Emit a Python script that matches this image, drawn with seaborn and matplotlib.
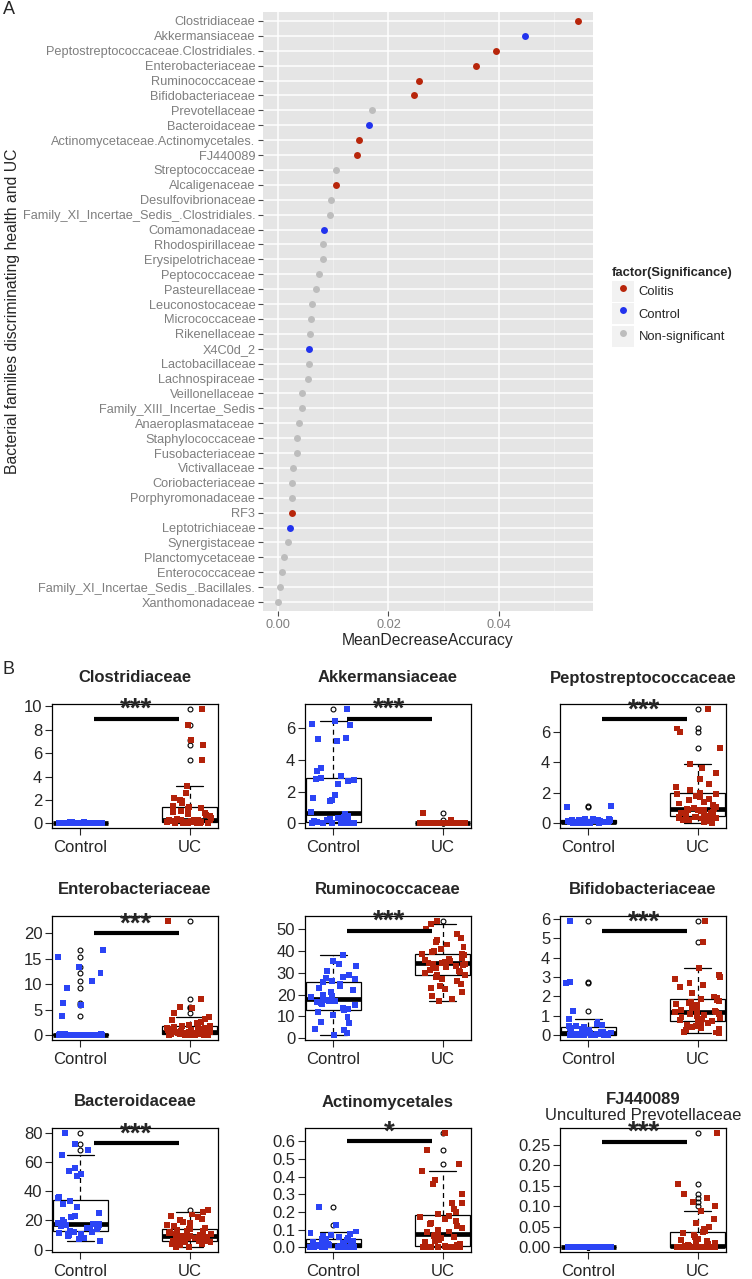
import matplotlib
matplotlib.use("Agg")
import matplotlib.pyplot as plt
from matplotlib.patches import Rectangle
from matplotlib.legend_handler import HandlerTuple
import numpy as np
import pandas as pd
import seaborn as sns

# ---------------- panel A data ----------------
families = [
    "Clostridiaceae", "Akkermansiaceae", "Peptostreptococcaceae.Clostridiales.",
    "Enterobacteriaceae", "Ruminococcaceae", "Bifidobacteriaceae", "Prevotellaceae",
    "Bacteroidaceae", "Actinomycetaceae.Actinomycetales.", "FJ440089",
    "Streptococcaceae", "Alcaligenaceae", "Desulfovibrionaceae",
    "Family_XI_Incertae_Sedis_.Clostridiales.", "Comamonadaceae", "Rhodospirillaceae",
    "Erysipelotrichaceae", "Peptococcaceae", "Pasteurellaceae", "Leuconostocaceae",
    "Micrococcaceae", "Rikenellaceae", "X4C0d_2", "Lactobacillaceae", "Lachnospiraceae",
    "Veillonellaceae", "Family_XIII_Incertae_Sedis", "Anaeroplasmataceae",
    "Staphylococcaceae", "Fusobacteriaceae", "Victivallaceae", "Coriobacteriaceae",
    "Porphyromonadaceae", "RF3", "Leptotrichiaceae", "Synergistaceae",
    "Planctomycetaceae", "Enterococcaceae", "Family_XI_Incertae_Sedis_.Bacillales.",
    "Xanthomonadaceae",
]
mean_decrease = [
    0.0543, 0.0447, 0.0395, 0.0358, 0.0255, 0.0246, 0.0170, 0.0165, 0.0147, 0.0143,
    0.0105, 0.0105, 0.0096, 0.0094, 0.0083, 0.0082, 0.0081, 0.0074, 0.0068, 0.0062,
    0.0060, 0.0058, 0.0057, 0.0057, 0.0055, 0.0044, 0.0043, 0.0039, 0.0035, 0.0034,
    0.0028, 0.0025, 0.0025, 0.0025, 0.0021, 0.0018, 0.0011, 0.0007, 0.0003, 0.0000,
]
C, K, N = "Colitis", "Control", "Non-significant"
significance = [
    C, K, C, C, C, C, N, K, C, C,
    N, C, N, N, K, N, N, N, N, N,
    N, N, K, N, N, N, N, N, N, N,
    N, N, N, C, K, N, N, N, N, N,
]
sig_levels = ["Colitis", "Control", "Non-significant"]
sig_colors = ["#B8260B", "#2233EE", "#BDBDBD"]

# ---------------- panel B data ----------------
groups = ["Control", "UC"]
group_colors = ["#2B44F5", "#B3220A"]

clostridiaceae_control = [0, 0, 0, 0, 0, 0, 0, 0, 0, 0, 0, 0, 0, 0, 0, 0.01, 0.01, 0.01, 0.02, 0.02,
                          0.02, 0.02, 0.03, 0.03, 0.03, 0.04, 0.04, 0.04, 0.05, 0.05, 0.05, 0.05,
                          0.06, 0.06, 0.06, 0.07, 0.07, 0.08, 0.08, 0.09]
clostridiaceae_uc = [0.0, 0.0, 0.01, 0.02, 0.03, 0.04, 0.05, 0.06, 0.07, 0.08, 0.09, 0.1,
                     0.1, 0.12, 0.14, 0.16, 0.18, 0.2, 0.22, 0.24, 0.26, 0.28, 0.3, 0.3,
                     0.32, 0.4, 0.5, 0.6, 0.7, 0.8, 0.9, 1.0, 1.1, 1.2, 1.3, 1.4,
                     1.5, 1.7, 1.9, 2.0, 2.2, 2.6, 3.2, 5.4, 6.7, 7.1, 8.4, 9.8]

akkermansiaceae_control = [0, 0, 0, 0, 0.01, 0.02, 0.03, 0.04, 0.05, 0.05,
                           0.08, 0.1, 0.15, 0.2, 0.25, 0.3, 0.35, 0.4, 0.5, 0.6,
                           0.7, 1.4, 1.5, 1.6, 1.8, 2.5, 2.7, 2.75, 2.8, 2.85,
                           3.0, 3.3, 3.5, 5.2, 5.3, 5.4, 6.2, 6.3, 6.45, 7.25]
akkermansiaceae_uc = [0] * 30 + [0.01] * 6 + [0.02] * 4 + [0.03] * 3 + [0.05] * 3 + [0.2, 0.65]

peptostreptococcaceae_control = [0, 0, 0, 0, 0, 0, 0.01, 0.02, 0.03, 0.04,
                                 0.05, 0.05, 0.06, 0.07, 0.08, 0.08, 0.09, 0.1, 0.1, 0.1,
                                 0.11, 0.12, 0.13, 0.14, 0.15, 0.16, 0.17, 0.18, 0.19, 0.2,
                                 0.2, 0.21, 0.22, 0.24, 0.25, 0.27, 0.3, 0.32, 1.1, 1.12]
peptostreptococcaceae_uc = [0.05, 0.1, 0.15, 0.2, 0.25, 0.3, 0.32, 0.35, 0.38, 0.4, 0.42, 0.45,
                            0.46, 0.5, 0.55, 0.6, 0.65, 0.7, 0.75, 0.8, 0.85, 0.88, 0.9, 0.95,
                            0.95, 1.0, 1.1, 1.2, 1.3, 1.4, 1.5, 1.6, 1.7, 1.8, 1.9, 1.95,
                            2.0, 2.2, 2.4, 2.6, 2.9, 3.3, 3.6, 3.9, 4.9, 6.0, 6.2, 7.5]

enterobacteriaceae_control = [0] * 14 + [0.01, 0.02, 0.03, 0.04, 0.05, 0.06, 0.08, 0.1, 0.12,
                                         0.15, 0.18, 0.2, 0.22, 0.25, 0.28, 0.3, 0.35] + \
                             [3.8, 5.9, 6.3, 9.3, 10.7, 12.2, 13.5, 15.3, 16.7]
enterobacteriaceae_uc = [0, 0, 0.05, 0.1, 0.1, 0.15, 0.2, 0.2, 0.25, 0.25, 0.3, 0.3,
                         0.32, 0.35, 0.4, 0.45, 0.5, 0.5, 0.55, 0.6, 0.62, 0.65, 0.68, 0.7,
                         0.72, 0.8, 0.9, 1.0, 1.1, 1.2, 1.3, 1.4, 1.5, 1.6, 1.7, 1.8,
                         1.9, 2.1, 2.4, 2.7, 3.0, 3.3, 3.6, 4.3, 5.4, 5.6, 7.2, 22.5]

ruminococcaceae_control = [1.2, 2.5, 3.5, 4.2, 6.8, 7.5, 9.5, 10.5, 12, 12.8,
                           13.2, 14, 15, 15.5, 16, 16.5, 17, 17.2, 17.5, 17.8,
                           18.2, 19, 19.5, 20, 21, 22, 23, 24, 25, 25.8,
                           26.2, 27, 27.5, 28, 29, 31, 33, 34, 35.5, 38]
ruminococcaceae_uc = [17, 18, 19.5, 21, 22.5, 23, 24, 25, 26, 27, 28, 28.8,
                      29.2, 30, 30.5, 31, 31.5, 32, 32.5, 33, 33.5, 34, 34.2, 34.4,
                      34.6, 35, 35.5, 36, 36.5, 37, 37.5, 38, 38.2, 38.4, 38.5, 38.6,
                      39.5, 40, 41, 42, 43, 44, 45, 46, 48, 50, 52.5, 54]

bifidobacteriaceae_control = [0, 0, 0, 0, 0, 0.01, 0.01, 0.02, 0.02, 0.02,
                              0.03, 0.04, 0.05, 0.05, 0.06, 0.07, 0.08, 0.09, 0.1, 0.1,
                              0.1, 0.12, 0.15, 0.18, 0.2, 0.25, 0.3, 0.35, 0.4, 0.45,
                              0.48, 0.5, 0.55, 0.6, 0.7, 0.85, 1.25, 2.7, 2.72, 5.9]
bifidobacteriaceae_uc = [0.1, 0.15, 0.2, 0.3, 0.35, 0.4, 0.45, 0.5, 0.55, 0.6, 0.65, 0.7,
                         0.72, 0.8, 0.85, 0.9, 0.95, 1.0, 1.05, 1.1, 1.12, 1.15, 1.18, 1.2,
                         1.2, 1.25, 1.3, 1.4, 1.5, 1.55, 1.6, 1.65, 1.7, 1.75, 1.8, 1.85,
                         1.9, 2.0, 2.2, 2.5, 2.6, 2.7, 2.9, 3.0, 3.1, 3.45, 4.8, 5.9]

bacteroidaceae_control = [6, 7, 8, 9, 10, 10.5, 11, 11.5, 12, 12.3,
                          13, 14, 14.5, 15, 15.5, 16, 16.5, 17, 17.2, 17.4,
                          17.6, 18, 19, 20, 22, 23, 25, 29, 31, 33.5,
                          35, 36, 50, 52, 54, 56, 65, 68, 72, 80]
bacteroidaceae_uc = [1.5, 2, 3, 3.5, 4, 4.5, 5, 5.2, 5.5, 5.7, 5.8, 6,
                     6.2, 6.5, 7, 7.3, 7.6, 8, 8.2, 8.5, 8.7, 8.8, 8.9, 9,
                     9, 9.5, 10, 10.5, 11, 11.5, 12, 12.5, 13, 13.5, 13.8, 14,
                     15, 16, 17, 18, 19, 20, 21, 22, 23, 24, 25.5, 27.2]

actinomycetales_control = [0] * 12 + [0.002, 0.004, 0.006, 0.008, 0.01, 0.012, 0.014, 0.015,
                                      0.016, 0.018, 0.02, 0.022, 0.025, 0.028, 0.03, 0.035, 0.04, 0.045,
                                      0.05, 0.055, 0.06, 0.065, 0.07, 0.075, 0.08, 0.09, 0.125, 0.23]
actinomycetales_uc = [0] * 10 + [0.002, 0.005,
                                 0.01, 0.015, 0.02, 0.03, 0.035, 0.04, 0.045, 0.05, 0.055, 0.06, 0.065, 0.07,
                                 0.08, 0.085, 0.09, 0.1, 0.11, 0.12, 0.13, 0.14, 0.15, 0.16, 0.17, 0.18,
                                 0.19, 0.2, 0.22, 0.25, 0.25, 0.3, 0.36, 0.38, 0.43, 0.47, 0.55, 0.65]

fj440089_control = [0] * 30 + [0.0005, 0.0005, 0.001, 0.001, 0.001, 0.0015, 0.0015, 0.002, 0.002, 0.002]
fj440089_uc = [0] * 19 + [0.001, 0.001, 0.002, 0.002, 0.003,
                          0.003, 0.005, 0.008, 0.01, 0.012, 0.015, 0.018, 0.02, 0.025, 0.03, 0.035, 0.038,
                          0.04, 0.045, 0.05, 0.06, 0.07, 0.088, 0.1, 0.11, 0.12, 0.13, 0.155, 0.28]

panel_titles = ["Clostridiaceae", "Akkermansiaceae", "Peptostreptococcaceae",
                "Enterobacteriaceae", "Ruminococcaceae", "Bifidobacteriaceae",
                "Bacteroidaceae", "Actinomycetales", "FJ440089"]
panel_subtitles = ["", "", "", "", "", "", "", "", "Uncultured Prevotellaceae"]
panel_control = [clostridiaceae_control, akkermansiaceae_control, peptostreptococcaceae_control,
                 enterobacteriaceae_control, ruminococcaceae_control, bifidobacteriaceae_control,
                 bacteroidaceae_control, actinomycetales_control, fj440089_control]
panel_uc = [clostridiaceae_uc, akkermansiaceae_uc, peptostreptococcaceae_uc,
            enterobacteriaceae_uc, ruminococcaceae_uc, bifidobacteriaceae_uc,
            bacteroidaceae_uc, actinomycetales_uc, fj440089_uc]
panel_ticks = [[0, 2, 4, 6, 8, 10], [0, 2, 4, 6], [0, 2, 4, 6],
               [0, 5, 10, 15, 20], [0, 10, 20, 30, 40, 50], [0, 1, 2, 3, 4, 5, 6],
               [0, 20, 40, 60, 80], [0.0, 0.1, 0.2, 0.3, 0.4, 0.5, 0.6],
               [0.0, 0.05, 0.10, 0.15, 0.20, 0.25]]
panel_decimals = [0, 0, 0, 0, 0, 0, 0, 1, 2]
sig_stars = ["***", "***", "***", "***", "***", "***", "***", "*", "***"]
sig_heights = [8.95, 6.58, 6.8, 20.0, 49.2, 5.35, 72.6, 0.6, 0.258]


def main():
    sns.set_style("white")
    plt.rcParams["font.family"] = ["Liberation Sans", "DejaVu Sans"]

    W, H = 752, 1279
    fig = plt.figure(figsize=(W / 100, H / 100), dpi=100)

    def px_axes(left, top, right, bottom):
        return fig.add_axes([left / W, 1 - bottom / H, (right - left) / W, (bottom - top) / H])

    # ---------------- panel A ----------------
    ax = px_axes(263, 12, 593, 611)
    df = pd.DataFrame({"family": families, "acc": mean_decrease, "sig": significance})
    sns.stripplot(data=df, x="acc", y="family", hue="sig", hue_order=sig_levels,
                  palette=sig_colors, jitter=False, size=5.0, linewidth=0, ax=ax)
    ax.set_facecolor("#E5E5E5")
    ax.set_xlim(-0.0027, 0.0570)
    ax.set_ylim(len(families) - 0.4, -0.6)
    ax.set_xticks([0, 0.02, 0.04])
    ax.set_xticklabels(["0.00", "0.02", "0.04"])
    ax.set_xticks([0.01, 0.03, 0.05], minor=True)
    ax.grid(True, which="major", color="white", linewidth=1.1)
    ax.grid(True, which="minor", axis="x", color="#F2F2F2", linewidth=0.5)
    ax.set_axisbelow(True)
    for s in ax.spines.values():
        s.set_visible(False)
    ax.tick_params(axis="both", which="major", color="#4D4D4D", labelcolor="#7F7F7F",
                   length=3.5, width=0.8, labelsize=9.2, pad=2, left=True, bottom=True)
    ax.tick_params(axis="x", which="minor", length=0)
    ax.set_xlabel("MeanDecreaseAccuracy", fontsize=11.3, labelpad=2)
    ax.set_ylabel("Bacterial families discriminating health and UC", fontsize=11.3)
    ax.yaxis.set_label_coords((20 - 263) / 330, 0.5)

    # legend with grey key squares behind the markers (ggplot style)
    handles, labels = ax.get_legend_handles_labels()
    ax.get_legend().remove()
    keyed = [(Rectangle((0, 0), 1, 1, facecolor="#F2F2F2", edgecolor="none"), h) for h in handles]
    leg = fig.legend(keyed, labels, title="factor(Significance)", loc="upper left",
                     bbox_to_anchor=(612 / W, 1 - 267 / H), frameon=False, fontsize=9.4,
                     title_fontsize=9.4, labelspacing=0.12, handletextpad=0.35,
                     handlelength=1.7, handleheight=2.1, borderpad=0, borderaxespad=0,
                     alignment="left", markerscale=1.0,
                     handler_map={tuple: HandlerTuple(ndivide=1, pad=0)})
    leg.get_title().set_fontweight("bold")

    fig.text(3 / W, 1 - 10 / H, "A", fontsize=13, va="center", ha="left")
    fig.text(3 / W, 1 - 669 / H, "B", fontsize=13, va="center", ha="left")

    # ---------------- panel B ----------------
    col_left = [52, 305, 560]
    row_top = [704, 916, 1128]
    box_w, box_h = 166, 124
    np.random.seed(7)

    for i in range(9):
        r, c = divmod(i, 3)
        left, top = col_left[c], row_top[r]
        ax = px_axes(left, top, left + box_w, top + box_h)
        ctrl, uc = panel_control[i], panel_uc[i]
        d = pd.DataFrame({"group": ["Control"] * len(ctrl) + ["UC"] * len(uc),
                          "value": ctrl + uc})
        sns.boxplot(data=d, x="group", y="value", order=groups, width=0.5,
                    color="white", linecolor="black", linewidth=0.9, whis=1.5,
                    fliersize=3.5,
                    flierprops=dict(marker="o", markerfacecolor="none",
                                    markeredgecolor="black", markeredgewidth=0.8),
                    whiskerprops=dict(linestyle=(0, (4, 3))),
                    medianprops=dict(linewidth=3.4),
                    ax=ax)
        sns.stripplot(data=d, x="group", y="value", hue="group", order=groups,
                      hue_order=groups, palette=group_colors, marker="s", size=4.3,
                      jitter=0.21, linewidth=0, legend=False, ax=ax)
        ax.set_xlim(-0.26, 1.26)
        vals = ctrl + uc
        lo, hi = min(vals), max(vals)
        pad = 0.04 * (hi - lo)
        ax.set_ylim(lo - pad, hi + pad)
        dec = panel_decimals[i]
        ax.set_yticks(panel_ticks[i])
        ax.set_yticklabels([f"{t:.{dec}f}" for t in panel_ticks[i]])
        ax.set_xlabel("")
        ax.set_ylabel("")
        for s in ax.spines.values():
            s.set_visible(True)
            s.set_color("black")
            s.set_linewidth(0.9)
        ax.tick_params(axis="both", direction="out", length=5, width=0.8,
                       labelsize=12, left=True, bottom=True, pad=2)
        ax.tick_params(axis="x", pad=4)

        ax.plot([0.12, 0.9], [sig_heights[i]] * 2, color="black", linewidth=3,
                solid_capstyle="butt", zorder=5)
        ax.annotate(sig_stars[i], (0.51, sig_heights[i]), xytext=(0, 1.5),
                    textcoords="offset points", ha="center", va="baseline",
                    fontsize=20, fontweight="bold", zorder=5)

        cx = (left + box_w / 2) / W
        if panel_subtitles[i]:
            fig.text(cx, 1 - (top - 29) / H, panel_titles[i], ha="center", va="center",
                     fontsize=12, fontweight="bold")
            fig.text(cx, 1 - (top - 12) / H, panel_subtitles[i], ha="center",
                     va="center", fontsize=12)
        else:
            fig.text(cx, 1 - (top - 26) / H, panel_titles[i], ha="center", va="center",
                     fontsize=12, fontweight="bold")

    plt.savefig("out.png", dpi=100)


if __name__ == "__main__":
    main()
